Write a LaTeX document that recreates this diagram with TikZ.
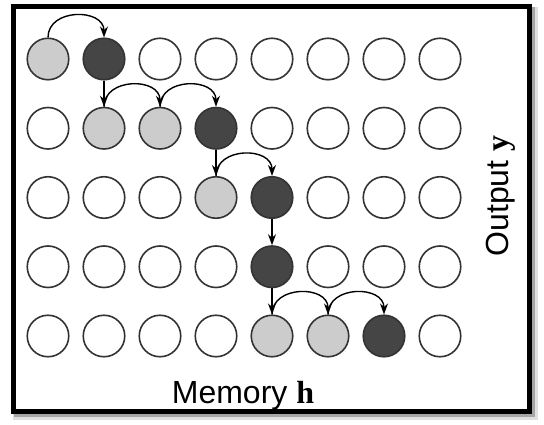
\documentclass[tikz,border=0pt]{standalone}
\usepackage{fontspec}
\setmainfont{Liberation Sans}
\newfontfamily\vecfont{Liberation Serif}
\usepackage{tikz}
\usetikzlibrary{arrows.meta}
\definecolor{lgray}{gray}{0.80}
\definecolor{dgray}{gray}{0.27}

\begin{document}
\begin{tikzpicture}[x=1pt,y=-1pt,>={Stealth[length=11pt,width=8pt]},
  font=\fontsize{32}{38}\selectfont,
  cell/.style={circle,draw=black!80,line width=1.6pt,minimum size=41.5pt,inner sep=0pt,fill=#1},
  hop/.style={->,line width=1.4pt}]
  \useasboundingbox (0,0) rectangle (544,425);
  % drop shadow and frame
  \draw[black!12,line width=8pt] (17,11) rectangle (534,416);
  \draw[black!35,line width=5pt] (16,10) rectangle (532,414);
  \draw[black,line width=5pt,fill=white] (13,6.5) rectangle (529,411);

  % grid of cells, one row at a time
  \foreach \r/\pat in {1/{lgray,dgray,white,white,white,white,white,white},
                       2/{white,lgray,lgray,dgray,white,white,white,white},
                       3/{white,white,white,lgray,dgray,white,white,white},
                       4/{white,white,white,white,dgray,white,white,white},
                       5/{white,white,white,white,lgray,lgray,dgray,white}}
    \foreach \f [count=\c] in \pat
      \node[cell=\f] (m-\r-\c) at ({48+56*(\c-1)},{59+69.25*(\r-1)}) {};

  % hops along a row
  \foreach \a/\b in {1-1/1-2,2-2/2-3,2-3/2-4,3-4/3-5,5-5/5-6,5-6/5-7}
    \draw[hop] (m-\a.north) to[out=90,in=90,looseness=1.35] (m-\b.north);
  % steps down to the next row
  \foreach \a/\b in {1-2/2-2,2-4/3-4,3-5/4-5,4-5/5-5}
    \draw[hop] (m-\a) -- (m-\b);

  % axis labels
  \node[anchor=base] (mem) at (243,403) {Memory {\vecfont\bfseries h}};
  \node[anchor=base,rotate=90] (out) at (508,196) {Output {\vecfont\bfseries y}};
\end{tikzpicture}
\end{document}
